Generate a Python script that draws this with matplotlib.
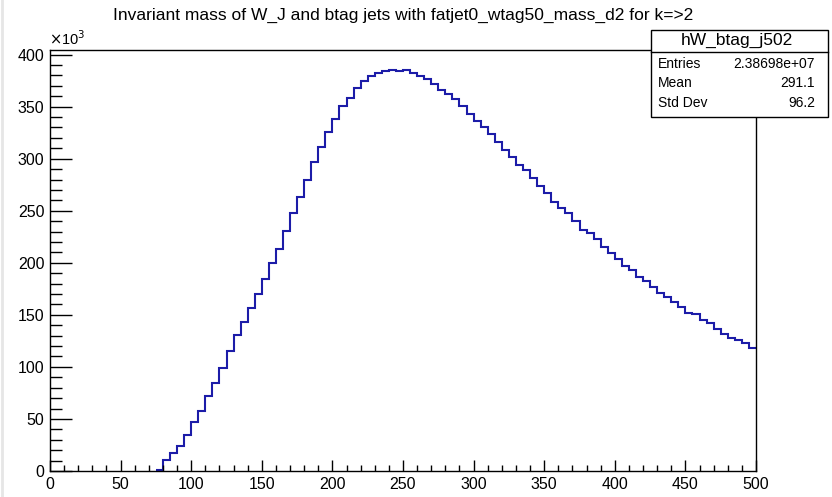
import numpy as np
import matplotlib
matplotlib.use("Agg")
import matplotlib.pyplot as plt
from matplotlib.patches import Rectangle
from matplotlib.ticker import MultipleLocator

plt.rcParams['font.family'] = ['Liberation Sans', 'DejaVu Sans']

# histogram: bins of width 5 starting at 75, values in units of 10^3 entries
bin_start = 75
bin_width = 5
counts_k = [1, 10.6, 17, 24.3, 34.3, 47, 58, 72, 84.9, 99.3,
            115.3, 130.6, 143.1, 156.3, 170.3, 184.4, 199.5, 213, 230.5, 247.5,
            263.5, 279.5, 296.6, 311.3, 325.6, 337.8, 350.6, 358.6, 368.2, 374.6,
            379.7, 382.3, 383.9, 385.2, 383.9, 385.2, 382.6, 379.4, 376.3, 371.8,
            366.3, 361.9, 357.1, 350.6, 342.9, 336.5, 330.2, 323.7, 316, 308.4,
            301.5, 293.8, 289, 281, 273.5, 266.8, 258.7, 252.4, 248.1, 240.2,
            231.5, 228.9, 222.6, 215.5, 209.4, 203.4, 196.9, 192.8, 186.1, 182.8,
            176.6, 171, 167.2, 162.2, 157.8, 152.1, 150.8, 145, 141.9, 136.7,
            132, 128.2, 125.8, 123.2, 118.3]

title = "Invariant mass of W_J and btag jets with fatjet0_wtag50_mass_d2 for k=>2"
hist_name = "hW_btag_j502"
stat_labels = ["Entries", "Mean", "Std Dev"]
stat_values = ["2.38698e+07", "291.1", "96.2"]

W, H = 832, 497
fig = plt.figure(figsize=(W / 100, H / 100), dpi=100)
fig.patch.set_facecolor('white')

ax_l, ax_r, ax_t, ax_b = 50, 756, 50, 471
ax = fig.add_axes([ax_l / W, (H - ax_b) / H, (ax_r - ax_l) / W, (ax_b - ax_t) / H])

edges = bin_start + bin_width * np.arange(len(counts_k) + 1)
ax.stairs(counts_k, edges, color='#1c1ca8', linewidth=1.5, baseline=None)

ax.set_xlim(0, 500)
ax.set_ylim(0, 404.4)

ax.xaxis.set_major_locator(MultipleLocator(50))
ax.xaxis.set_minor_locator(MultipleLocator(10))
ax.yaxis.set_major_locator(MultipleLocator(50))
ax.yaxis.set_minor_locator(MultipleLocator(10))

ax.tick_params(axis='x', which='major', direction='in', length=8.0, width=1.0,
               labelsize=11.5, pad=4, top=False, colors='black')
ax.tick_params(axis='x', which='minor', direction='in', length=4.3, width=1.0, top=False)
ax.tick_params(axis='y', which='major', direction='in', length=15.6, width=1.0,
               labelsize=11.5, pad=4, right=False)
ax.tick_params(axis='y', which='minor', direction='in', length=8.6, width=1.0, right=False)
ax.xaxis.set_major_formatter(lambda v, p: f"{v:g}")
ax.yaxis.set_major_formatter(lambda v, p: f"{v:g}")
for s in ax.spines.values():
    s.set_linewidth(1.0)
    s.set_color('black')

# exponent label
fig.text(49 / W, 1 - 39 / H, r"$\times$10$^{3}$", fontsize=10.5, ha='left', va='center')

# title
fig.text(403 / W, 1 - 15 / H, title, fontsize=12.5, ha='center', va='center')

# stats box
bx0, bx1, by0, by1, bym = 650.7, 827.7, 30, 116.7, 51.7
fig.patches.append(Rectangle((bx0 / W, 1 - by1 / H), (bx1 - bx0) / W, (by1 - by0) / H,
                             transform=fig.transFigure, facecolor='white',
                             edgecolor='black', linewidth=1.0, zorder=5))
fig.lines.append(plt.Line2D([bx0 / W, bx1 / W], [1 - bym / H, 1 - bym / H],
                            transform=fig.transFigure, color='black', linewidth=1.0, zorder=6))
fig.text(737 / W, 1 - 40.5 / H, hist_name, fontsize=12.5, ha='center',
         va='center', zorder=7)
row_y = [64, 83, 103]
for lab, val, yy in zip(stat_labels, stat_values, row_y):
    fig.text(658 / W, 1 - yy / H, lab, fontsize=10, ha='left', va='center', zorder=7)
    fig.text(815 / W, 1 - yy / H, val, fontsize=10, ha='right', va='center', zorder=7)

# light border at left edge of screenshot
fig.lines.append(plt.Line2D([2 / W, 2 / W], [0, 1], transform=fig.transFigure,
                            color='#e6e6e6', linewidth=2))

fig.savefig("out.png", dpi=100)
